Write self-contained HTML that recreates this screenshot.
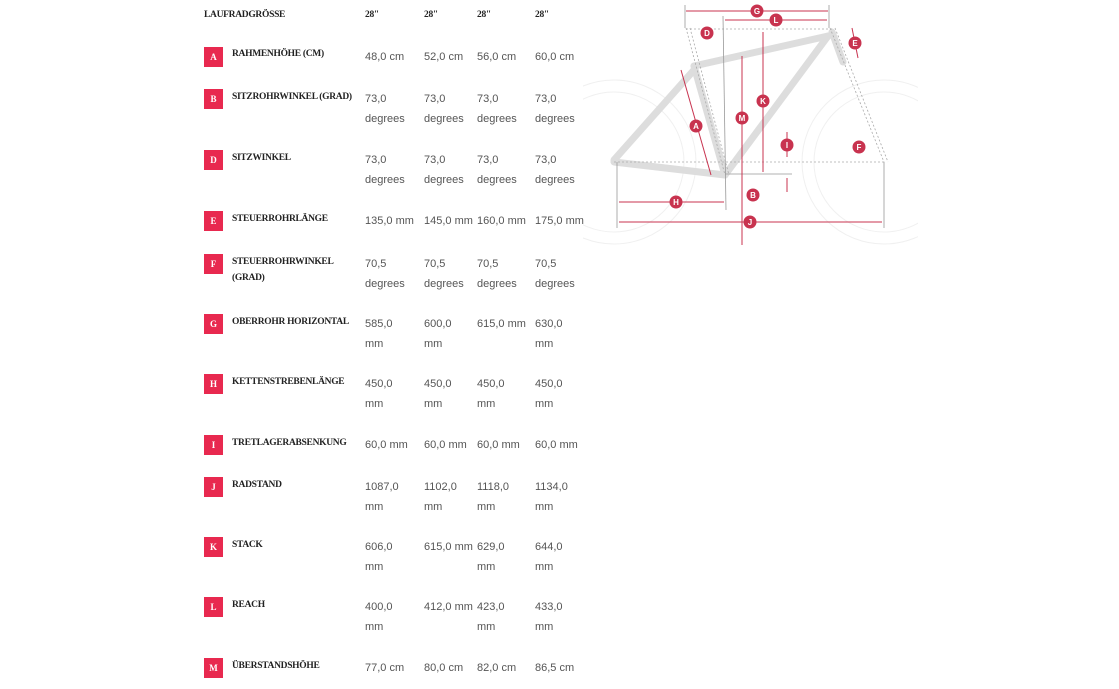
<!DOCTYPE html><html><head><meta charset="utf-8"><style>
body{margin:0;width:1119px;height:689px;background:#fff;position:relative;overflow:hidden}
.l{position:absolute;font-family:"Liberation Serif","DejaVu Serif",serif;font-weight:bold;font-size:9.5px;color:#222;line-height:16px;letter-spacing:-0.3px;white-space:nowrap}
.v{position:absolute;font-family:"Liberation Sans",sans-serif;font-size:11px;color:#555;line-height:20px;white-space:nowrap}
.b{position:absolute;left:204px;width:19px;height:20px;background:#e8294f;color:#fff;font-family:"Liberation Serif",serif;font-weight:bold;font-size:9px;text-align:center;line-height:20px}
</style></head><body>
<div class="l" style="left:204px;top:7px">LAUFRADGRÖSSE</div>
<div class="l" style="left:365px;top:7px">28"</div><div class="l" style="left:424px;top:7px">28"</div><div class="l" style="left:477px;top:7px">28"</div><div class="l" style="left:535px;top:7px">28"</div>

<div class="b" style="top:47px">A</div><div class="l" style="left:232px;top:46px">RAHMENHÖHE (CM)</div>
<div class="v" style="left:365px;top:47px">48,0 cm</div><div class="v" style="left:424px;top:47px">52,0 cm</div><div class="v" style="left:477px;top:47px">56,0 cm</div><div class="v" style="left:535px;top:47px">60,0 cm</div>

<div class="b" style="top:89px">B</div><div class="l" style="left:232px;top:89px">SITZROHRWINKEL (GRAD)</div>
<div class="v" style="left:365px;top:89px">73,0<br>degrees</div><div class="v" style="left:424px;top:89px">73,0<br>degrees</div><div class="v" style="left:477px;top:89px">73,0<br>degrees</div><div class="v" style="left:535px;top:89px">73,0<br>degrees</div>

<div class="b" style="top:150px">D</div><div class="l" style="left:232px;top:150px">SITZWINKEL</div>
<div class="v" style="left:365px;top:150px">73,0<br>degrees</div><div class="v" style="left:424px;top:150px">73,0<br>degrees</div><div class="v" style="left:477px;top:150px">73,0<br>degrees</div><div class="v" style="left:535px;top:150px">73,0<br>degrees</div>

<div class="b" style="top:211px">E</div><div class="l" style="left:232px;top:211px">STEUERROHRLÄNGE</div>
<div class="v" style="left:365px;top:211px">135,0 mm</div><div class="v" style="left:424px;top:211px">145,0 mm</div><div class="v" style="left:477px;top:211px">160,0 mm</div><div class="v" style="left:535px;top:211px">175,0 mm</div>

<div class="b" style="top:254px">F</div><div class="l" style="left:232px;top:254px">STEUERROHRWINKEL<br>(GRAD)</div>
<div class="v" style="left:365px;top:254px">70,5<br>degrees</div><div class="v" style="left:424px;top:254px">70,5<br>degrees</div><div class="v" style="left:477px;top:254px">70,5<br>degrees</div><div class="v" style="left:535px;top:254px">70,5<br>degrees</div>

<div class="b" style="top:314px">G</div><div class="l" style="left:232px;top:314px">OBERROHR HORIZONTAL</div>
<div class="v" style="left:365px;top:314px">585,0<br>mm</div><div class="v" style="left:424px;top:314px">600,0<br>mm</div><div class="v" style="left:477px;top:314px">615,0 mm</div><div class="v" style="left:535px;top:314px">630,0<br>mm</div>

<div class="b" style="top:374px">H</div><div class="l" style="left:232px;top:374px">KETTENSTREBENLÄNGE</div>
<div class="v" style="left:365px;top:374px">450,0<br>mm</div><div class="v" style="left:424px;top:374px">450,0<br>mm</div><div class="v" style="left:477px;top:374px">450,0<br>mm</div><div class="v" style="left:535px;top:374px">450,0<br>mm</div>

<div class="b" style="top:435px">I</div><div class="l" style="left:232px;top:435px">TRETLAGERABSENKUNG</div>
<div class="v" style="left:365px;top:435px">60,0 mm</div><div class="v" style="left:424px;top:435px">60,0 mm</div><div class="v" style="left:477px;top:435px">60,0 mm</div><div class="v" style="left:535px;top:435px">60,0 mm</div>

<div class="b" style="top:477px">J</div><div class="l" style="left:232px;top:477px">RADSTAND</div>
<div class="v" style="left:365px;top:477px">1087,0<br>mm</div><div class="v" style="left:424px;top:477px">1102,0<br>mm</div><div class="v" style="left:477px;top:477px">1118,0<br>mm</div><div class="v" style="left:535px;top:477px">1134,0<br>mm</div>

<div class="b" style="top:537px">K</div><div class="l" style="left:232px;top:537px">STACK</div>
<div class="v" style="left:365px;top:537px">606,0<br>mm</div><div class="v" style="left:424px;top:537px">615,0 mm</div><div class="v" style="left:477px;top:537px">629,0<br>mm</div><div class="v" style="left:535px;top:537px">644,0<br>mm</div>

<div class="b" style="top:597px">L</div><div class="l" style="left:232px;top:597px">REACH</div>
<div class="v" style="left:365px;top:597px">400,0<br>mm</div><div class="v" style="left:424px;top:597px">412,0 mm</div><div class="v" style="left:477px;top:597px">423,0<br>mm</div><div class="v" style="left:535px;top:597px">433,0<br>mm</div>

<div class="b" style="top:658px">M</div><div class="l" style="left:232px;top:658px">ÜBERSTANDSHÖHE</div>
<div class="v" style="left:365px;top:658px">77,0 cm</div><div class="v" style="left:424px;top:658px">80,0 cm</div><div class="v" style="left:477px;top:658px">82,0 cm</div><div class="v" style="left:535px;top:658px">86,5 cm</div>

<svg style="position:absolute;left:0;top:0" width="1119" height="689">
<defs><clipPath id="c"><rect x="583" y="0" width="335" height="250"/></clipPath></defs>
<g fill="none" stroke="#f0f0f0" stroke-width="1" clip-path="url(#c)">
<circle cx="614" cy="162" r="82"/><circle cx="614" cy="162" r="70"/>
<circle cx="884" cy="162" r="82"/><circle cx="884" cy="162" r="70"/>
</g>
<g stroke="#ddd" stroke-width="7" stroke-linecap="round" fill="none">
<line x1="694" y1="66" x2="828" y2="36"/>
<line x1="828" y1="36" x2="725" y2="175"/>
<line x1="694" y1="66" x2="725" y2="175"/>
<line x1="694" y1="70" x2="614" y2="160"/>
<line x1="614" y1="162" x2="725" y2="175"/>
<line x1="832" y1="32" x2="843" y2="62"/>
</g>
<g stroke="#aaa" stroke-width="0.8" stroke-dasharray="2,2" fill="none">
<line x1="686" y1="28" x2="725" y2="175"/><line x1="690" y1="28" x2="729" y2="175"/>
<line x1="830" y1="28" x2="884" y2="162"/><line x1="835" y1="28" x2="888" y2="162"/>
<line x1="686" y1="29" x2="832" y2="29"/>
<line x1="614" y1="162" x2="884" y2="162"/>
</g>
<g stroke="#999" stroke-width="0.8"><line x1="723" y1="16" x2="726" y2="210"/><line x1="685" y1="5" x2="685" y2="28"/><line x1="829" y1="5" x2="829" y2="28"/>
<line x1="617" y1="162" x2="617" y2="228"/><line x1="884" y1="162" x2="884" y2="228"/><line x1="725" y1="174" x2="792" y2="174"/></g>
<g stroke="#c8334f" stroke-width="1" fill="none">
<line x1="686" y1="11" x2="828" y2="11"/><line x1="725" y1="20" x2="827" y2="20"/>
<line x1="763" y1="32" x2="763" y2="172"/><line x1="742" y1="56" x2="742" y2="245"/>
<line x1="681" y1="70" x2="711" y2="175"/><line x1="619" y1="202" x2="724" y2="202"/>
<line x1="619" y1="222" x2="882" y2="222"/><line x1="852" y1="28" x2="858" y2="58"/>
<line x1="787" y1="132" x2="787" y2="157"/><line x1="787" y1="178" x2="787" y2="192"/>
</g>
<g fill="#c8334f">
<circle cx="757" cy="11" r="6.5"/><circle cx="776" cy="20" r="6.5"/><circle cx="707" cy="33" r="6.5"/>
<circle cx="855" cy="43" r="6.5"/><circle cx="763" cy="101" r="6.5"/><circle cx="742" cy="118" r="6.5"/>
<circle cx="696" cy="126" r="6.5"/><circle cx="787" cy="145" r="6.5"/><circle cx="859" cy="147" r="6.5"/>
<circle cx="753" cy="195" r="6.5"/><circle cx="676" cy="202" r="6.5"/><circle cx="750" cy="222" r="6.5"/>
</g>
<g fill="#fff" font-family="Liberation Sans,sans-serif" font-size="8" font-weight="bold" text-anchor="middle">
<text x="757" y="14">G</text><text x="776" y="23">L</text><text x="707" y="36">D</text><text x="855" y="46">E</text>
<text x="763" y="104">K</text><text x="742" y="121">M</text><text x="696" y="129">A</text><text x="787" y="148">I</text>
<text x="859" y="150">F</text><text x="753" y="198">B</text><text x="676" y="205">H</text><text x="750" y="225">J</text>
</g>
</svg>
</body></html>
